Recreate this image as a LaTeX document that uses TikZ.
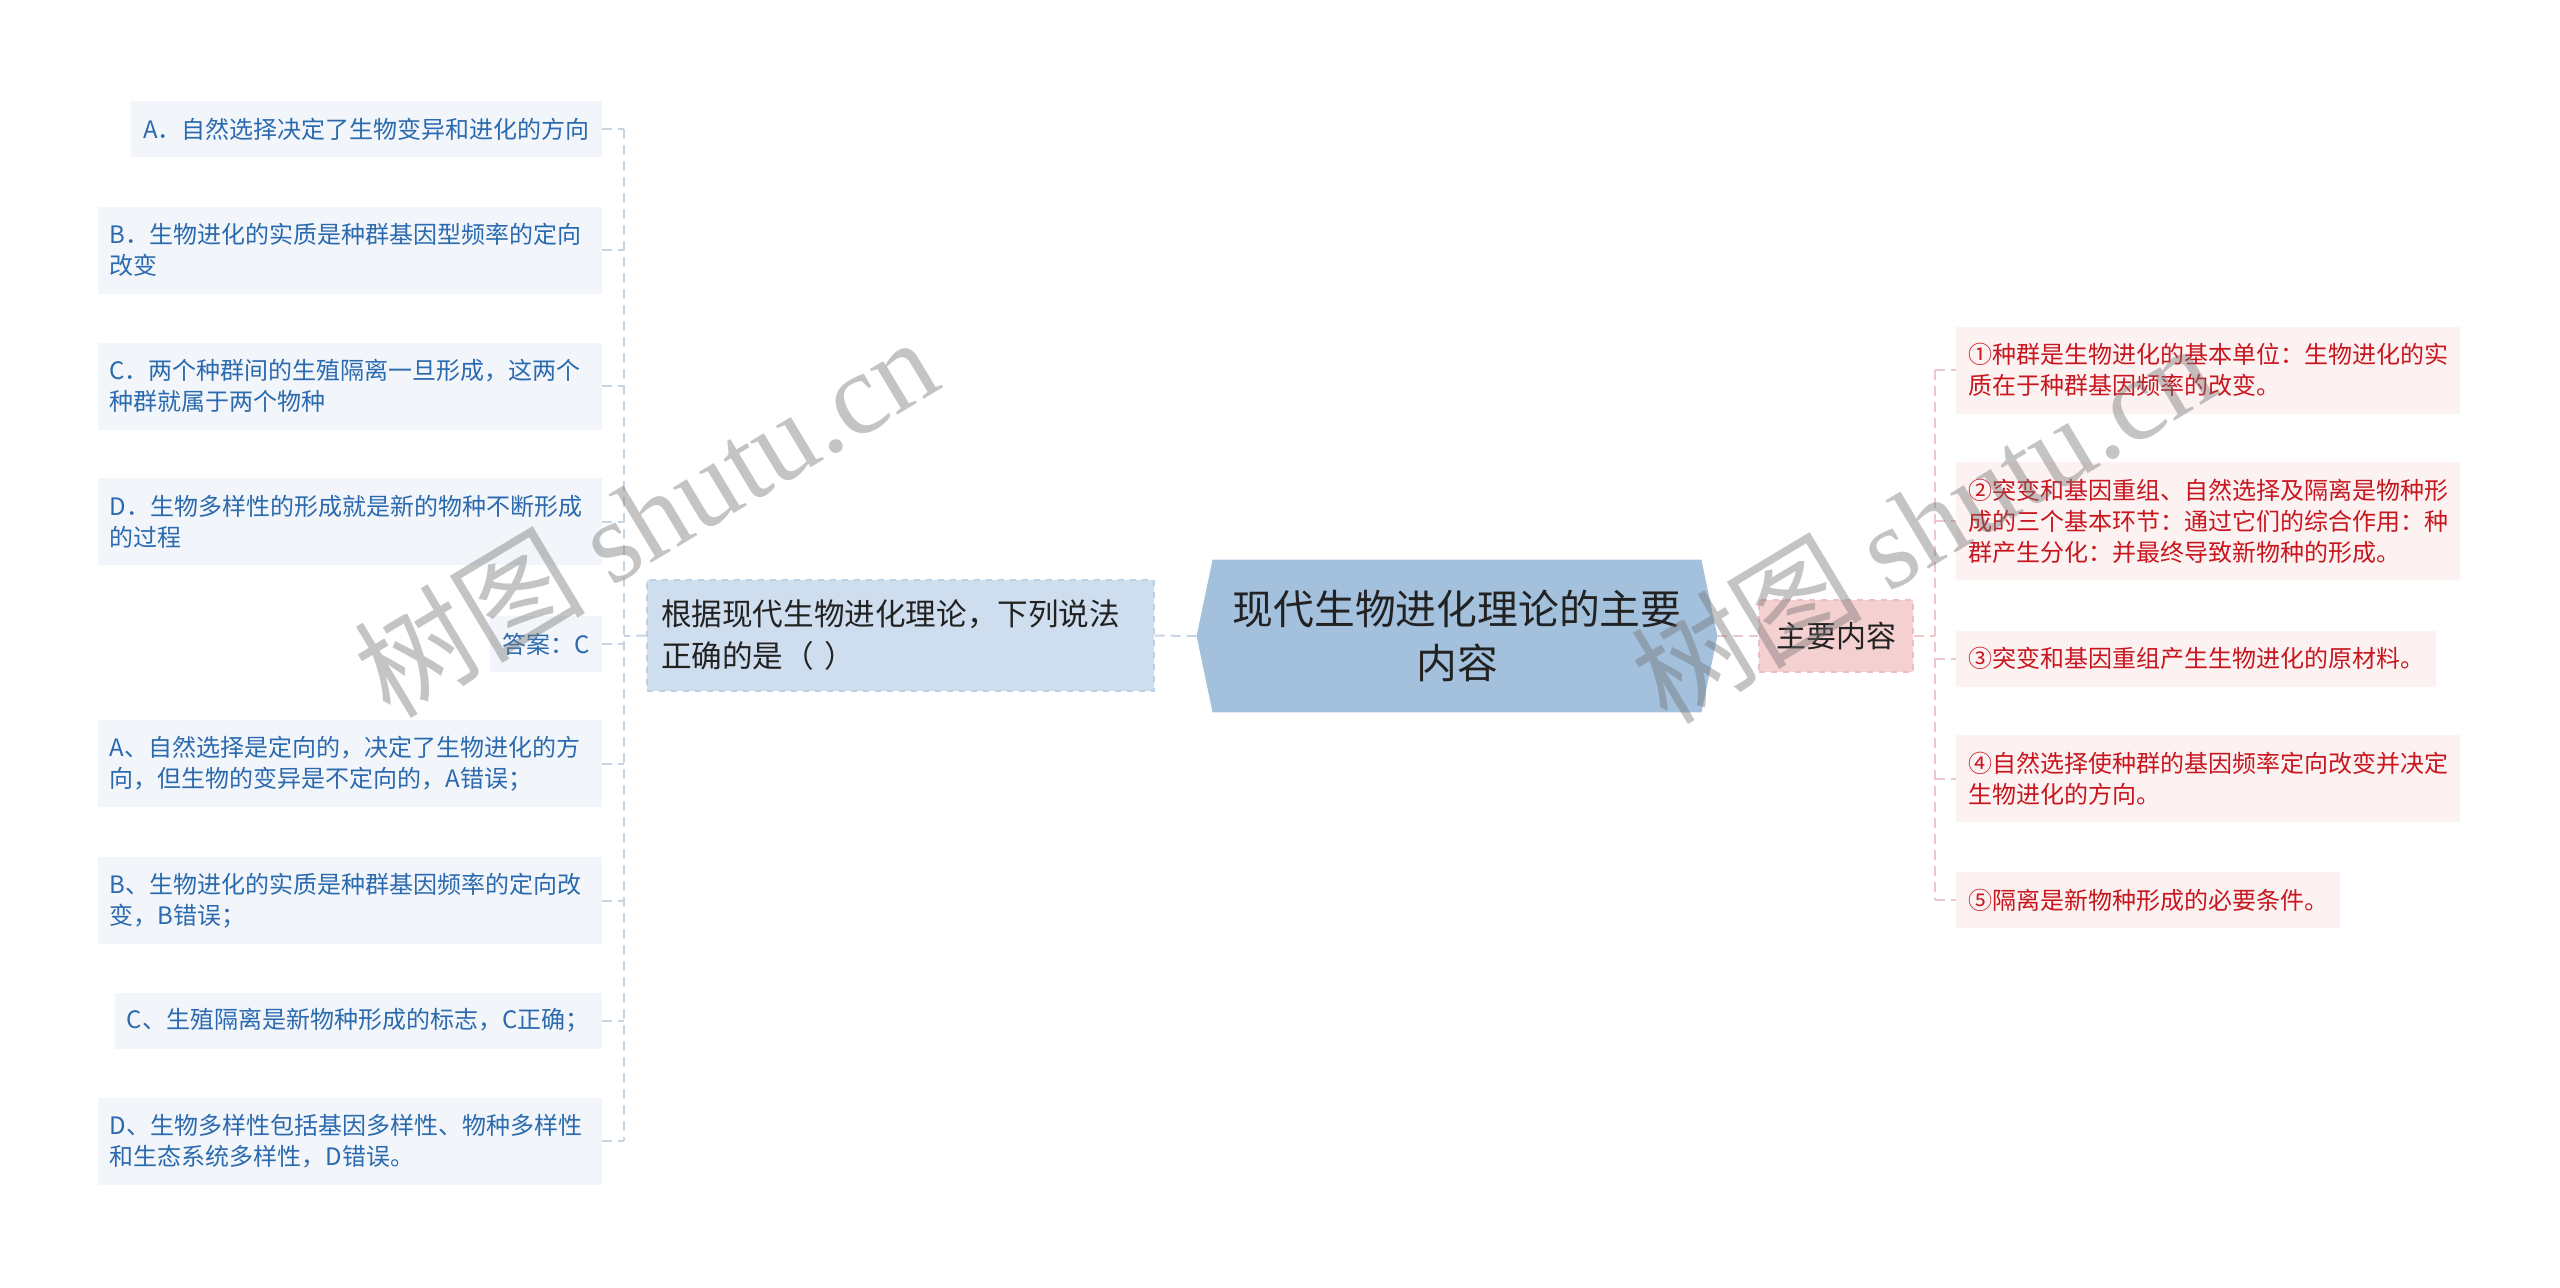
\documentclass[tikz,border=0pt]{standalone}
\usepackage{fontspec}
\setmainfont{Noto Sans CJK SC}
\newfontfamily\wmserif{Liberation Serif}
\usetikzlibrary{backgrounds}
\definecolor{leafLfill}{HTML}{F2F6FB}
\definecolor{leafLtext}{HTML}{2B6AAE}
\definecolor{leafRfill}{HTML}{FDF2F2}
\definecolor{leafRtext}{HTML}{C8161E}
\definecolor{qfill}{HTML}{CFDEEE}
\definecolor{qborder}{HTML}{BCD0E5}
\definecolor{rootfill}{HTML}{A3C0DD}
\definecolor{mcfill}{HTML}{F5D0D1}
\definecolor{mcborder}{HTML}{EBBFC1}
\definecolor{connL}{HTML}{C9D4E1}
\definecolor{connR}{HTML}{EDC7C9}
\definecolor{darktext}{HTML}{222222}
\begin{document}
\begin{tikzpicture}[x=0.5pt,y=-0.5pt,
  leafbase/.style={align=left, inner xsep=6pt, inner ysep=0pt,
    font=\fontsize{12pt}{15.5pt}\selectfont},
  leafL/.style={leafbase, fill=leafLfill, text=leafLtext, anchor=east},
  leafR/.style={leafbase, fill=leafRfill, text=leafRtext, anchor=west},
  wide/.style={text width=240pt},
  hA/.style={minimum height=28pt},
  hB/.style={minimum height=43.5pt},
  hC/.style={minimum height=59pt},
  qnode/.style={fill=qfill, draw=qborder, dashed, line width=0.6pt, text=darktext,
    align=left, text width=239.5pt, inner xsep=7pt, inner ysep=0pt,
    minimum height=55.5pt, font=\fontsize{15.3pt}{21pt}\selectfont},
  rootnode/.style={align=center, text=darktext, minimum width=260pt, minimum height=76pt,
    inner sep=0pt, font=\fontsize{20.4pt}{27pt}\selectfont},
  mcnode/.style={fill=mcfill, draw=mcborder, dashed, line width=0.6pt, text=darktext,
    minimum width=77pt, minimum height=36pt, inner sep=0pt,
    font=\fontsize{15pt}{18pt}\selectfont},
  cL/.style={draw=connL, line width=1pt, dash pattern=on 5pt off 3pt},
  cR/.style={draw=connR, line width=1pt, dash pattern=on 5pt off 3pt},
  wm/.style={text=black!55, opacity=0.42, rotate=31, inner sep=0pt}
]
\useasboundingbox (0,0) rectangle (2560,1287);

% left leaves
\node[leafL,hA] (la) at (602,129) {A．自然选择决定了生物变异和进化的方向};
\node[leafL,wide,hB] (lb) at (602,250) {B．生物进化的实质是种群基因型频率的定向\\改变};
\node[leafL,wide,hB] (lc) at (602,386) {C．两个种群间的生殖隔离一旦形成，这两个\\种群就属于两个物种};
\node[leafL,wide,hB] (ld) at (602,521.5) {D．生物多样性的形成就是新的物种不断形成\\的过程};
\node[leafL,hA] (ans) at (602,644) {答案：C};
\node[leafL,wide,hB] (le) at (602,763.5) {A、自然选择是定向的，决定了生物进化的方\\向，但生物的变异是不定向的，A错误；};
\node[leafL,wide,hB] (lf) at (602,900.5) {B、生物进化的实质是种群基因频率的定向改\\变，B错误；};
\node[leafL,hA] (lg) at (602,1020.5) {C、生殖隔离是新物种形成的标志，C正确；};
\node[leafL,wide,hB] (lh) at (602,1141) {D、生物多样性包括基因多样性、物种多样性\\和生态系统多样性，D错误。};

% question node
\node[qnode] (q) at (900.5,635.5) {根据现代生物进化理论，下列说法\\正确的是（ ）};

% root
\node[rootnode] (root) at (1457,636) {现代生物进化理论的主要\\内容};
\begin{scope}[on background layer]
\fill[rootfill] ([xshift=8pt]root.north west) -- ([xshift=-8pt]root.north east)
  -- (root.east) -- ([xshift=-8pt]root.south east) -- ([xshift=8pt]root.south west)
  -- (root.west) -- cycle;
\end{scope}

% main content node
\node[mcnode] (mc) at (1836,636) {主要内容};

% right leaves
\node[leafR,wide,hB] (r1) at (1956,370) {①种群是生物进化的基本单位：生物进化的实\\质在于种群基因频率的改变。};
\node[leafR,wide,hC] (r2) at (1956,521) {②突变和基因重组、自然选择及隔离是物种形\\成的三个基本环节：通过它们的综合作用：种\\群产生分化：并最终导致新物种的形成。};
\node[leafR,hA] (r3) at (1956,658.5) {③突变和基因重组产生生物进化的原材料。};
\node[leafR,wide,hB] (r4) at (1956,778.5) {④自然选择使种群的基因频率定向改变并决定\\生物进化的方向。};
\node[leafR,hA] (r5) at (1956,900) {⑤隔离是新物种形成的必要条件。};

% left connectors
\coordinate (jl) at (624,636);
\draw[cL] (root.west) -- (q.east);
\draw[cL] (q.west) -- (jl);
\draw[cL] (jl |- la.east) -- (jl |- lh.east);
\foreach \n in {la,lb,lc,ld,ans,le,lf,lg,lh}
  \draw[cL] (\n.east) -- (jl |- \n.east);

% right connectors
\coordinate (jr) at (1935,636);
\draw[cR] (root.east) -- (mc.west);
\draw[cR] (mc.east) -- (jr);
\draw[cR] (jr |- r1.west) -- (jr |- r5.west);
\foreach \n in {r1,r2,r3,r4,r5}
  \draw[cR] (jr |- \n.west) -- (\n.west);

% watermarks
\node[wm] (wm1) at (645,516) {\fontsize{58pt}{58pt}\selectfont 树图 {\wmserif shutu.cn}};
\node[wm] (wm2) at (1922,522) {\fontsize{58pt}{58pt}\selectfont 树图 {\wmserif shutu.cn}};
\end{tikzpicture}
\end{document}
